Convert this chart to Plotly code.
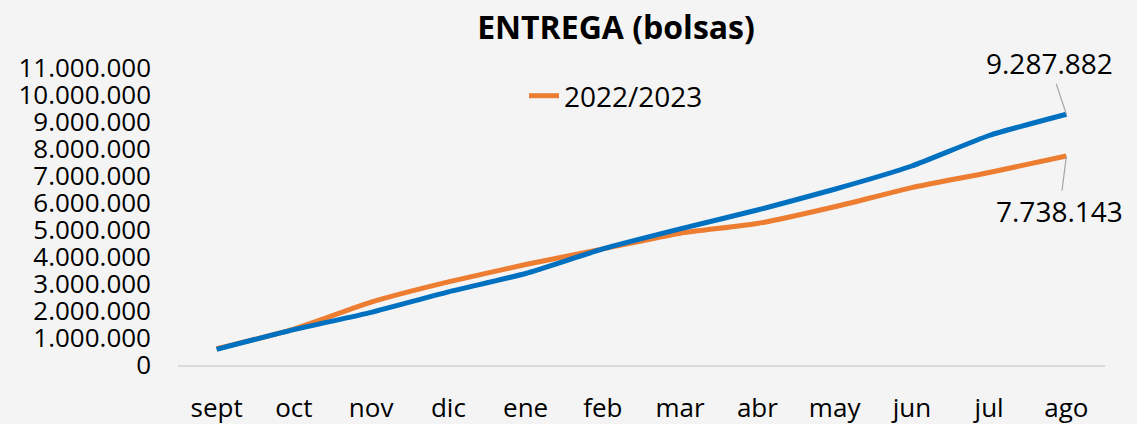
import plotly.graph_objects as go

months = ["sept", "oct", "nov", "dic", "ene", "feb", "mar", "abr", "may", "jun", "jul", "ago"]
serie_azul = [580000, 1310000, 1950000, 2710000, 3390000, 4300000, 5040000, 5740000, 6510000, 7370000, 8500000, 9287882]
serie_naranja = [600000, 1330000, 2330000, 3080000, 3720000, 4300000, 4880000, 5240000, 5860000, 6570000, 7130000, 7738143]
name_azul = "2023/2024"
name_naranja = "2022/2023"
title_text = "ENTREGA (bolsas)"

FONT = "Open Sans"
BG = "#f4f4f4"
H = 424

def fmt(v):
    return f"{v:,}".replace(",", ".")

fig = go.Figure()
fig.add_trace(go.Scatter(
    x=months, y=serie_naranja, name=name_naranja, mode="lines",
    line=dict(color="#ed7d31", width=5, shape="spline", smoothing=0.5),
    showlegend=True,
))
fig.add_trace(go.Scatter(
    x=months, y=serie_azul, name=name_azul, mode="lines",
    line=dict(color="#0070c0", width=5, shape="spline", smoothing=0.5),
    showlegend=False,
))

fig.add_annotation(
    x=months[-1], y=serie_azul[-1], xref="x", yref="y",
    text=fmt(serie_azul[-1]), showarrow=True, arrowhead=0, arrowwidth=1.2,
    arrowcolor="#a6a6a6", ax=-17, ay=-51, standoff=0,
    font=dict(family=FONT, size=28, color="#000000"),
)
fig.add_annotation(
    x=months[-1], y=serie_naranja[-1], xref="x", yref="y",
    text=fmt(serie_naranja[-1]), showarrow=True, arrowhead=0, arrowwidth=1.2,
    arrowcolor="#a6a6a6", ax=-7, ay=55, standoff=0,
    font=dict(family=FONT, size=28, color="#000000"),
)

fig.update_layout(
    width=1137, height=H,
    margin=dict(l=178, r=32, t=68, b=H - 365, autoexpand=False),
    paper_bgcolor=BG, plot_bgcolor=BG,
    separators=",.",
    font=dict(family=FONT, size=26, color="#000000"),
    title=dict(text="<b>" + title_text + "</b>", x=616 / 1137, xanchor="center",
               y=1 - 28 / H, yanchor="middle", xref="container", yref="container",
               font=dict(family=FONT, size=32, color="#000000")),
    legend=dict(x=(524 - 178) / 927, y=(365 - 96) / 297, xanchor="left", yanchor="middle",
                bgcolor="rgba(0,0,0,0)", orientation="h",
                font=dict(family=FONT, size=28, color="#000000")),
    xaxis=dict(showgrid=False, zeroline=False, showline=True, linecolor="#d9d9d9",
               linewidth=1.5, ticks="", ticklabelstandoff=19, range=[-0.5, 11.5],
               automargin=False, tickfont=dict(family=FONT, size=26)),
    yaxis=dict(showgrid=False, zeroline=False, showline=False, range=[0, 11000000],
               dtick=1000000, tick0=0, tickformat=",d", ticks="", ticklabelstandoff=26,
               automargin=False, tickfont=dict(family=FONT, size=26)),
)

fig.write_html(
    "out.html",
    config={"displayModeBar": False},
    post_script="document.body.style.margin='0';document.body.style.overflow='hidden';document.body.style.background='" + BG + "';",
)
